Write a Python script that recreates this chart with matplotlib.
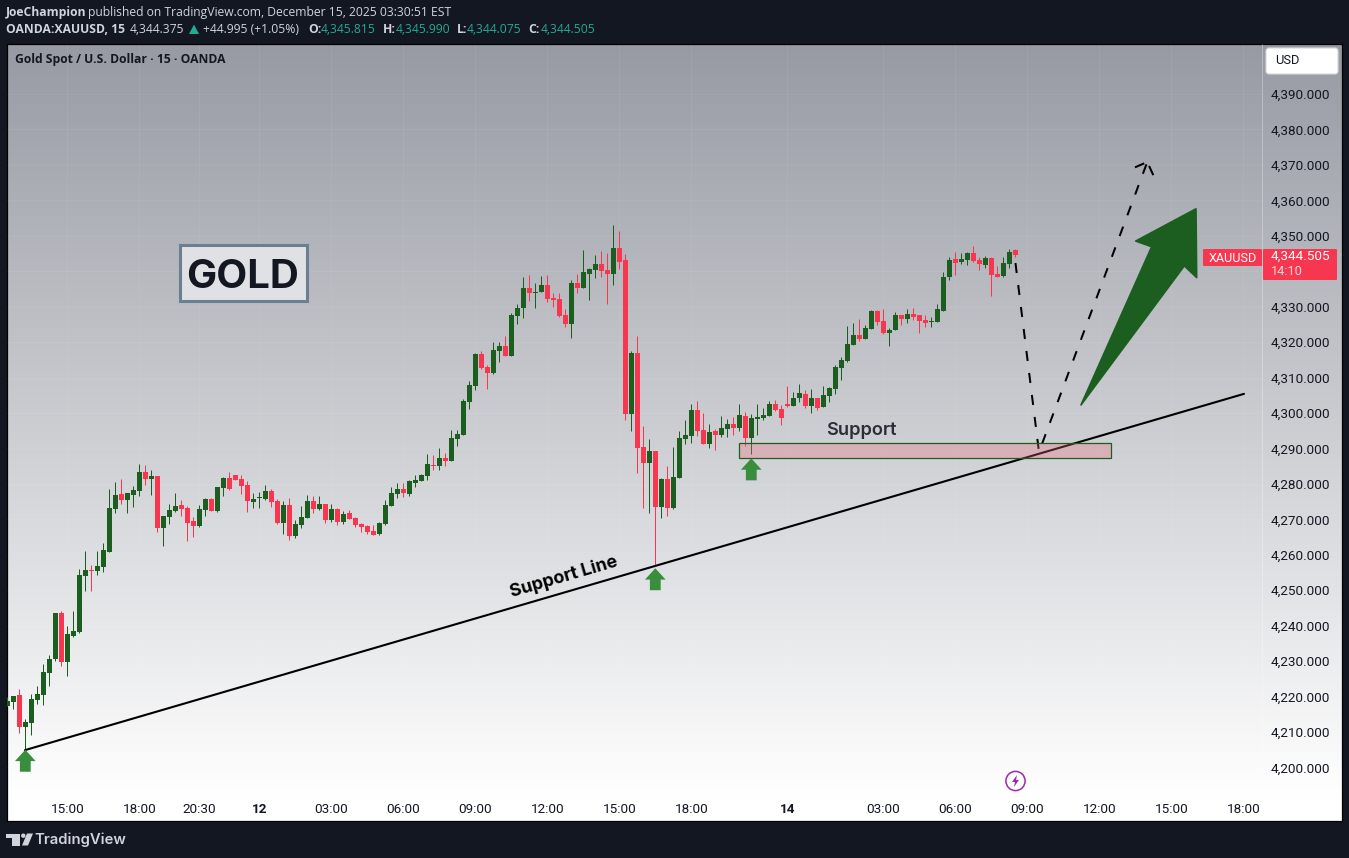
import numpy as np
import matplotlib
matplotlib.use("Agg")
import matplotlib.pyplot as plt
from matplotlib.patches import Rectangle, FancyBboxPatch, Circle, Polygon

# ---------- data (XAUUSD 15 min candles) ----------
opens = [
4217.4,4218.6,4220.5,4211.5,4212.6,4219.0,4220.5,4226.7,4230.6,4243.6,
4229.8,4237.1,4238.2,4254.0,4255.8,4255.4,4256.6,4260.8,4272.9,4277.2,
4275.5,4276.9,4278.0,4283.4,4281.4,4282.2,4267.6,4270.7,4272.3,4274.0,
4273.2,4269.5,4268.1,4272.6,4275.8,4272.4,4278.8,4281.7,4282.5,4281.4,
4279.7,4274.9,4276.0,4275.7,4278.0,4275.2,4269.0,4274.0,4265.3,4268.4,
4270.4,4275.2,4272.9,4274.3,4269.8,4272.9,4269.3,4271.8,4270.4,4268.7,
4268.1,4266.7,4265.9,4268.7,4273.8,4277.2,4278.6,4277.1,4280.3,4280.8,
4282.2,4285.3,4285.1,4287.3,4286.5,4292.7,4293.8,4303.1,4307.6,4316.6,
4313.0,4311.3,4317.5,4318.9,4316.1,4327.4,4329.6,4335.3,4333.9,4334.1,
4336.1,4332.5,4332.2,4327.6,4325.1,4336.7,4335.3,4339.2,4340.3,4342.0,
4340.3,4339.2,4346.6,4343.2,4299.7,4316.9,4290.4,4285.9,4289.3,4273.5,
4281.4,4273.2,4281.7,4292.7,4293.5,4300.8,4295.2,4291.3,4294.9,4293.8,
4295.5,4296.9,4295.8,4299.1,4293.0,4298.3,4298.6,4299.1,4302.5,4301.1,
4302.5,4302.0,4304.2,4305.3,4302.0,4304.2,4301.7,4304.8,4306.8,4312.6,
4314.6,4319.2,4322.0,4320.9,4323.7,4328.8,4326.0,4322.6,4323.4,4327.6,
4326.5,4327.9,4327.6,4326.2,4325.7,4325.7,4328.8,4338.4,4343.5,4342.6,
4343.2,4345.2,4343.2,4341.8,4343.7,4339.2,4338.6,4342.0,4346.0]
closes = [
4218.8,4220.2,4211.5,4212.8,4219.3,4220.7,4226.9,4230.6,4243.6,4229.8,
4237.7,4238.5,4254.3,4255.7,4255.5,4256.8,4261.4,4273.2,4276.9,4275.5,
4277.4,4278.3,4283.4,4281.4,4282.2,4267.6,4271.0,4272.6,4273.8,4272.9,
4269.0,4268.1,4272.9,4275.8,4272.4,4279.1,4281.7,4278.6,4281.1,4279.4,
4275.2,4275.7,4276.3,4278.0,4274.9,4269.0,4274.0,4265.3,4268.7,4270.7,
4275.2,4272.9,4274.3,4269.8,4272.9,4269.3,4271.5,4270.1,4268.4,4267.8,
4266.4,4265.6,4269.0,4274.0,4277.4,4278.6,4277.4,4280.8,4281.1,4282.5,
4285.6,4285.1,4287.3,4286.5,4293.0,4294.1,4303.4,4307.9,4316.6,4312.7,
4311.3,4317.8,4318.9,4316.1,4327.6,4329.6,4335.3,4333.9,4334.1,4336.1,
4332.2,4331.9,4327.4,4325.1,4336.7,4335.3,4339.8,4340.6,4342.0,4340.0,
4339.2,4346.6,4342.6,4299.7,4316.9,4290.1,4285.9,4289.3,4273.5,4281.4,
4273.2,4282.0,4292.9,4293.8,4300.8,4294.9,4291.3,4294.6,4293.8,4295.8,
4296.9,4295.8,4299.4,4293.0,4298.6,4298.9,4299.4,4302.5,4300.8,4298.6,
4302.0,4304.2,4305.6,4302.0,4304.2,4301.4,4305.1,4307.1,4313.0,4314.9,
4319.4,4322.0,4320.9,4324.0,4328.8,4325.7,4322.6,4323.4,4327.6,4326.5,
4327.9,4327.1,4326.0,4325.4,4326.0,4329.3,4338.4,4343.2,4342.3,4343.5,
4345.2,4342.9,4342.0,4343.7,4338.9,4338.4,4342.3,4345.4,4344.505]
highs = [
4220.0,4220.2,4222.2,4213.6,4220.7,4223.0,4229.2,4231.7,4243.6,4244.1,
4239.9,4244.1,4256.0,4261.0,4257.1,4261.0,4263.3,4278.6,4280.5,4281.4,
4277.4,4279.4,4285.6,4285.3,4283.9,4282.2,4271.0,4274.3,4277.4,4275.5,
4273.8,4270.7,4274.0,4276.0,4276.0,4279.1,4282.0,4283.4,4282.5,4282.5,
4280.8,4277.4,4277.7,4279.7,4278.6,4275.8,4275.2,4276.0,4269.8,4273.8,
4276.9,4276.6,4276.6,4274.3,4274.3,4273.2,4272.3,4272.6,4270.7,4269.0,
4268.4,4268.4,4269.3,4275.5,4279.1,4280.2,4280.2,4281.1,4282.5,4282.8,
4288.4,4288.1,4290.1,4288.7,4295.2,4295.2,4304.0,4309.0,4316.9,4317.5,
4313.5,4320.0,4320.0,4321.7,4328.2,4330.7,4338.4,4338.9,4336.7,4338.6,
4338.9,4333.9,4333.9,4329.3,4337.5,4339.2,4346.0,4340.9,4344.6,4345.7,
4345.1,4353.0,4351.3,4344.9,4317.5,4321.7,4296.3,4292.7,4289.3,4281.7,
4285.0,4290.4,4294.9,4298.0,4302.5,4303.4,4300.0,4296.9,4295.6,4299.2,
4298.3,4298.9,4302.5,4300.2,4299.7,4302.5,4301.4,4303.4,4303.7,4302.2,
4307.6,4306.0,4308.2,4306.5,4306.8,4304.2,4307.6,4307.4,4313.5,4315.8,
4324.5,4325.4,4326.5,4324.8,4329.0,4329.0,4329.3,4324.0,4328.5,4327.6,
4329.3,4329.6,4327.6,4327.6,4327.1,4330.7,4339.8,4344.0,4345.4,4345.2,
4345.4,4347.1,4344.0,4344.3,4344.0,4341.5,4344.0,4346.2,4346.3]
lows = [
4217.4,4216.6,4209.8,4205.1,4209.3,4217.9,4217.6,4223.0,4230.0,4228.6,
4225.8,4236.8,4237.9,4249.8,4249.8,4254.3,4255.1,4260.8,4271.8,4274.3,
4271.8,4273.5,4276.6,4279.7,4276.9,4266.4,4262.5,4268.7,4272.1,4270.9,
4263.9,4265.0,4267.8,4270.9,4272.4,4272.1,4276.6,4278.3,4281.1,4277.2,
4272.1,4273.2,4273.2,4275.5,4273.5,4268.7,4265.9,4264.2,4264.7,4267.6,
4270.4,4271.8,4272.6,4269.0,4269.3,4268.4,4268.7,4270.1,4267.8,4266.4,
4265.9,4265.6,4265.6,4268.4,4273.8,4276.0,4276.3,4276.6,4279.1,4280.8,
4281.1,4283.9,4283.9,4285.0,4286.5,4290.7,4293.8,4301.1,4306.5,4312.4,
4306.8,4311.0,4314.4,4316.1,4316.1,4325.1,4326.8,4331.6,4329.6,4334.1,
4331.3,4329.9,4327.1,4324.3,4321.2,4333.9,4335.3,4331.9,4338.1,4338.4,
4330.8,4336.1,4340.6,4298.0,4294.9,4283.1,4273.2,4271.8,4256.8,4270.4,
4270.9,4272.9,4281.7,4291.3,4291.5,4293.5,4291.3,4290.1,4289.6,4293.2,
4293.2,4293.8,4294.9,4290.7,4288.5,4293.8,4298.0,4299.1,4300.5,4296.6,
4301.7,4302.0,4303.1,4301.4,4300.0,4300.8,4301.7,4303.1,4305.4,4309.3,
4314.4,4319.2,4320.3,4320.9,4323.7,4324.8,4322.3,4318.9,4323.4,4324.8,
4325.4,4326.2,4322.6,4324.3,4324.3,4325.7,4328.8,4337.5,4339.0,4342.0,
4341.8,4342.6,4340.4,4340.9,4333.0,4338.4,4338.4,4340.9,4344.075]

price_ticks = list(range(4200, 4400, 10))
hidden_price_tick = 4340  # sits under the last-price label in the reference
time_ticks = [10, 22, 32, 42, 54, 66, 78, 90, 102, 114, 130, 146, 158, 170, 182, 194, 206]
time_labels = ["15:00", "18:00", "20:30", "12", "03:00", "06:00", "09:00", "12:00", "15:00",
               "18:00", "14", "03:00", "06:00", "09:00", "12:00", "15:00", "18:00"]
bold_days = ["12", "14"]

trend_x = [2.95, 206.12]
trend_p = [4204.9, 4305.4]
path_x = [168.03, 171.95, 190.0]
path_p = [4342.3, 4289.0, 4370.8]
head_left_x = [187.95, 190.0]
head_left_p = [4369.3, 4370.8]
head_right_x = [191.0, 190.0]
head_right_p = [4367.1, 4370.8]
arrow_x = [178.95, 190.73, 188.07, 198.12, 198.23, 196.17]
arrow_p = [4302.26, 4346.9, 4348.5, 4357.6, 4338.2, 4341.5]
zone_x = [121.95, 183.95]
zone_p = [4287.3, 4291.4]
pivot_x = [3, 108, 124]
pivot_p = [4205.0, 4256.2, 4287.2]

# ---------- colours ----------
UP = "#1b5e20"
DOWN = "#f7374f"
DARK = "#131722"
FONT = "Inter"
AXF = "Roboto"
W, H = 1349, 858

fig = plt.figure(figsize=(W / 100, H / 100), dpi=100, facecolor=DARK)


def box(l, t, r, b):
    return [l / W, 1 - b / H, (r - l) / W, (b - t) / H]


# gradient pane
bg = fig.add_axes(box(7, 44, 1342, 821), zorder=0)
grad = np.linspace(0, 1, 400)[:, None]
top = np.array([0x97, 0x9a, 0xa3]) / 255
rgb = top[None, None, :] + (1 - top[None, None, :]) * np.clip(grad[:, :, None] / 0.97, 0, 1)
bg.imshow(rgb, aspect="auto", extent=(0, 1, 0, 1))
bg.set_xticks([]); bg.set_yticks([])
for s in bg.spines.values():
    s.set_color("#000000"); s.set_linewidth(0.9)

# main chart
ax = fig.add_axes(box(7, 44, 1262, 799), zorder=2)
ax.patch.set_alpha(0)
ax.set_xlim(-0.05, 209.12)
ax.set_ylim(4191.11, 4404.09)
for s in ax.spines.values():
    s.set_visible(False)
ax.spines["right"].set_visible(True)
ax.spines["right"].set_color((1, 1, 1, 0.3))
ax.spines["right"].set_linewidth(0.7)

ax.yaxis.tick_right()
ax.set_yticks(price_ticks)
ax.set_yticklabels(["" if p == hidden_price_tick else f"{p:,.3f}" for p in price_ticks],
                   fontsize=9.7, family=AXF, color="#131722")
ax.tick_params(axis="y", length=0, pad=6.3)
ax.set_xticks(time_ticks)
ax.set_xticklabels(time_labels, fontsize=9.7, family=AXF, color="#131722")
for t in ax.get_xticklabels():
    if t.get_text() in bold_days:
        t.set_fontweight("bold")
ax.tick_params(axis="x", length=0, pad=3)
ax.grid(True, color="white", alpha=0.06, lw=0.7)
ax.set_axisbelow(True)

# candles
o, h, l, c = map(np.array, (opens, highs, lows, closes))
x = np.arange(len(o))
col = np.where(c >= o, UP, DOWN)
wicks = ax.vlines(x, l, h, colors=col, lw=0.72, zorder=3)
wicks.set_snap(True)
ax.bar(x, np.maximum(np.abs(c - o), 0.3), bottom=np.minimum(o, c), width=0.83, color=col, lw=0, zorder=4)

# drawings
ax.plot(trend_x, trend_p, color="black", lw=1.5, zorder=5, solid_capstyle="round")
DASH = dict(color="black", lw=1.45, ls=(0, (5, 6)), dash_capstyle="butt", zorder=5)
ax.plot(path_x, path_p, **DASH)
ax.plot(head_left_x, head_left_p, **DASH)
ax.plot(head_right_x, head_right_p, **DASH)
ax.add_patch(Polygon(np.column_stack([arrow_x, arrow_p]), closed=True, fc=UP, ec=UP, lw=1.2,
                     joinstyle="round", zorder=6))
ax.add_patch(Rectangle((zone_x[0], zone_p[0]), zone_x[1] - zone_x[0], zone_p[1] - zone_p[0],
                       fc=(0.93, 0.40, 0.46, 0.30), ec=UP, lw=0.9, zorder=6))
for xp, pp in zip(pivot_x, pivot_p):
    xs = [xp, xp + 1.72, xp + 0.9, xp + 0.9, xp - 0.9, xp - 0.9, xp - 1.72]
    ps = [pp, pp - 3.2, pp - 3.2, pp - 6.2, pp - 6.2, pp - 3.2, pp - 3.2]
    ax.fill(xs, ps, color="#388e3c", lw=0, zorder=7)

ax.text(92.7, 4253.6, "Support Line", rotation=16.3, rotation_mode="anchor", ha="center", va="center",
        fontsize=12.9, fontweight="bold", family=FONT, color="black", zorder=8)
ax.text(142.27, 4295.2, "Support", ha="center", va="center", fontsize=13.1, fontweight="semibold",
        family=FONT, color="#2a2e39", zorder=8)

# overlay (chrome) in pixel coordinates
ov = fig.add_axes([0, 0, 1, 1], zorder=5)
ov.set_xlim(0, W); ov.set_ylim(H, 0)
ov.axis("off")
ov.patch.set_alpha(0)

# GOLD label
ov.add_patch(Rectangle((179.5, 244.5), 127, 56, fc="#e0e1e5", ec="#6b7f92", lw=2.2))
ov.text(243, 277.5, "GOLD", ha="center", va="center", fontsize=28.9, fontweight="bold", family=FONT, color=DARK)

# header
HF = "Open Sans"
GREY = "#d1d4dc"
TEAL = "#22ab94"
FS = 8.78
ov.text(6, 12.5, "JoeChampion", fontsize=FS, fontweight="bold", family=HF, color=GREY, va="center")
ov.text(88, 12.5, "published on TradingView.com, December 15, 2025 03:30:51 EST", fontsize=FS, family=HF, color=GREY, va="center")
ov.text(6, 29.5, "OANDA:XAUUSD, 15", fontsize=FS, fontweight="bold", family=HF, color=GREY, va="center")
ov.text(130, 29.5, "4,344.375", fontsize=FS, family=HF, color=GREY, va="center")
ov.add_patch(Polygon([[189, 34], [199, 34], [194, 24.5]], fc=TEAL, lw=0))
ov.text(203, 29.5, "+44.995 (+1.05%)", fontsize=FS, family=HF, color=GREY, va="center")
for xl, xv, lab, val in [(308, 321, "O:", "4,345.815"), (383, 396, "H:", "4,345.990"),
                         (457, 467, "L:", "4,344.075"), (528, 541, "C:", "4,344.505")]:
    ov.text(xl, 29.5, lab, fontsize=FS, fontweight="bold", family=HF, color=GREY, va="center")
    ov.text(xv, 29.5, val, fontsize=FS, family=HF, color=TEAL, va="center")
ov.text(15, 60, "Gold Spot / U.S. Dollar · 15 · OANDA", fontsize=FS, fontweight="bold", family=HF, color=DARK, va="center")

# USD button
ov.add_patch(FancyBboxPatch((1266, 48), 72, 26, boxstyle="round,pad=0,rounding_size=3", fc="white", ec="#d6d8de", lw=0.8))
ov.text(1275, 60.5, "USD", fontsize=9.3, family=AXF, color=DARK, va="center")

# last price labels
ov.add_patch(FancyBboxPatch((1203, 249), 59, 17, boxstyle="round,pad=0,rounding_size=1", fc=DOWN, lw=0))
ov.text(1233, 258, "XAUUSD", fontsize=9.1, family=AXF, color="white", ha="center", va="center")
ov.add_patch(FancyBboxPatch((1263, 249), 74, 31, boxstyle="round,pad=0,rounding_size=1", fc=DOWN, lw=0))
ov.text(1271, 256.5, "4,344.505", fontsize=9.7, family=AXF, color="white", va="center")
ov.text(1271, 271.5, "14:10", fontsize=9.2, family=AXF, color="#ffd6da", va="center")

# lightning badge
ov.add_patch(Circle((1015.5, 781), 9.6, fc="white", ec="#9c27b0", lw=1.1))
ov.add_patch(Polygon([[1017, 775], [1012, 782], [1015, 782], [1014, 787], [1019, 780], [1016, 780]], fc="#9c27b0", lw=0))

# TradingView logo
ov.add_patch(Polygon([[6, 833.5], [20, 833.5], [20, 845.5], [12, 845.5], [12, 838], [6, 838]], fc=GREY, lw=0))
ov.add_patch(Circle((23.3, 835.7), 2.2, fc=GREY, lw=0))
ov.add_patch(Polygon([[22, 845.5], [27, 833.5], [33, 833.5], [28, 845.5]], fc=GREY, lw=0))
ov.text(34, 840, "TradingView", fontsize=10.7, fontweight="semibold", family=FONT, color=GREY, va="center")

fig.savefig("out.png", dpi=100, facecolor=DARK)
